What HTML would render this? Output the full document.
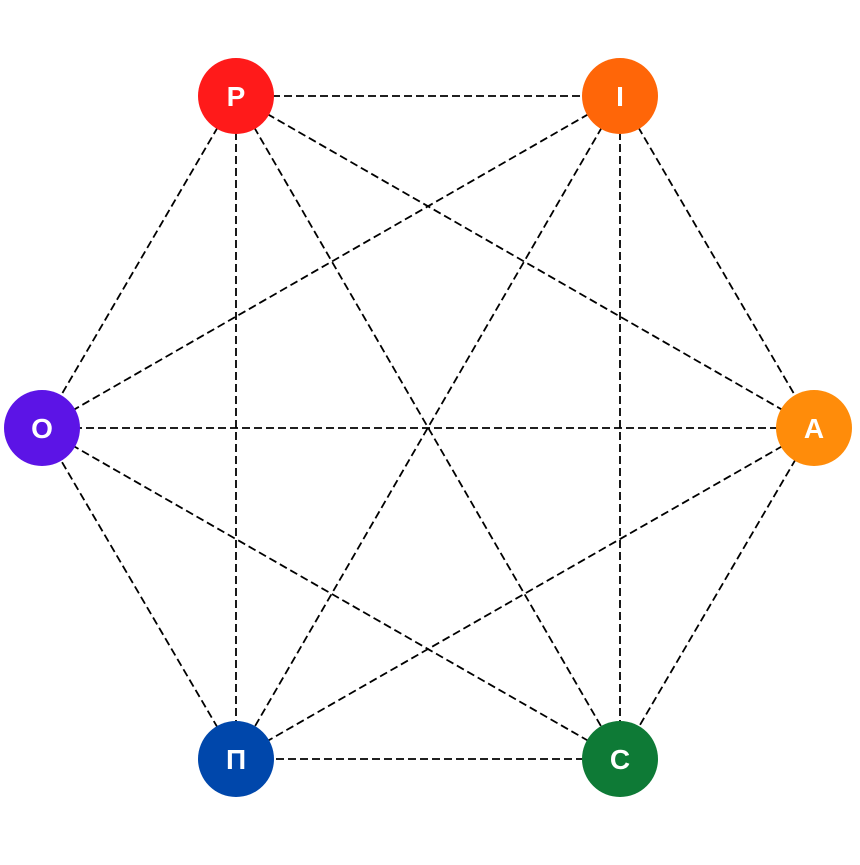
<!DOCTYPE html>
<html><head><meta charset="utf-8"><style>html,body{margin:0;padding:0;background:#fff}</style></head>
<body>
<svg width="860" height="860" viewBox="0 0 860 860" xmlns="http://www.w3.org/2000/svg">
<g stroke="#000" stroke-width="1.8" stroke-dasharray="8,4" fill="none">
<line x1="236" y1="96" x2="620" y2="96"/>
<line x1="236" y1="96" x2="814" y2="428"/>
<line x1="236" y1="96" x2="620" y2="759"/>
<line x1="236" y1="96" x2="236" y2="759"/>
<line x1="236" y1="96" x2="42" y2="428"/>
<line x1="620" y1="96" x2="814" y2="428"/>
<line x1="620" y1="96" x2="620" y2="759"/>
<line x1="620" y1="96" x2="236" y2="759"/>
<line x1="620" y1="96" x2="42" y2="428"/>
<line x1="814" y1="428" x2="620" y2="759"/>
<line x1="814" y1="428" x2="236" y2="759"/>
<line x1="814" y1="428" x2="42" y2="428"/>
<line x1="620" y1="759" x2="236" y2="759"/>
<line x1="620" y1="759" x2="42" y2="428"/>
<line x1="236" y1="759" x2="42" y2="428"/>
</g>
<g font-family="Liberation Sans, sans-serif" font-weight="bold" font-size="28" fill="#fff" text-anchor="middle">
<circle cx="236" cy="96" r="38" fill="#ff1a1a"/><text x="236" y="106">P</text>
<circle cx="620" cy="96" r="38" fill="#ff6608"/><text x="620" y="106">I</text>
<circle cx="814" cy="428" r="38" fill="#ff8c0a"/><text x="814" y="438">A</text>
<circle cx="620" cy="759" r="38" fill="#0e7a36"/><text x="620" y="769">C</text>
<circle cx="236" cy="759" r="38" fill="#0047ab"/><text x="236" y="769">П</text>
<circle cx="42" cy="428" r="38" fill="#5c14e6"/><text x="42" y="438">O</text>
</g>
</svg>
</body></html>
